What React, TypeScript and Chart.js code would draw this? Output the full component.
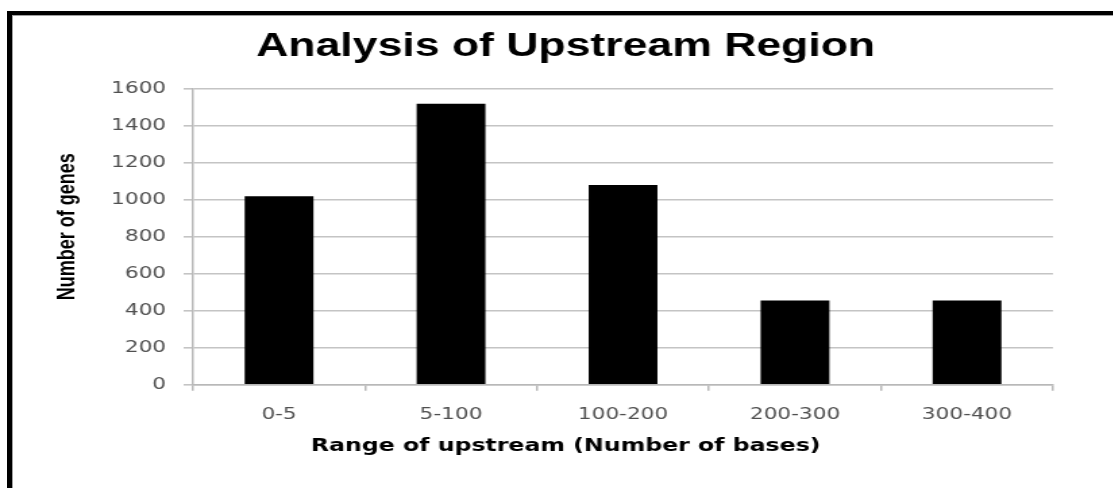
import React, { useEffect, useRef } from "react";
import { Chart, registerables } from "chart.js";

Chart.register(...registerables);

// ---- data ----
const categories = ["0-5", "5-100", "100-200", "200-300", "300-400"];
const geneCounts = [1020, 1520, 1080, 455, 455];
const yMin = 0;
const yMax = 1600;
const yStep = 200;

const chartTitle = "Analysis of Upstream Region";
const xAxisTitle = "Range of upstream (Number of bases)";
const yAxisTitle = "Number of genes";

// ---- layout (the reference is horizontally stretched) ----
const STRETCH = 1.35;
const CANVAS_W = 838;
const CANVAS_H = 488;

export default function App() {
  const canvasRef = useRef<HTMLCanvasElement | null>(null);

  useEffect(() => {
    const canvas = canvasRef.current;
    if (!canvas) return;
    const chart = new Chart(canvas, {
      type: "bar",
      data: {
        labels: categories,
        datasets: [
          {
            label: yAxisTitle,
            data: geneCounts,
            backgroundColor: "#000000",
            borderWidth: 0,
            barPercentage: 0.4,
            categoryPercentage: 1.0,
          },
        ],
      },
      options: {
        animation: false,
        responsive: false,
        devicePixelRatio: 1,
        layout: { padding: { left: 0, right: 0, top: 0, bottom: 0 } },
        plugins: {
          legend: { display: false },
          tooltip: { enabled: false },
          title: {
            display: true,
            text: chartTitle,
            color: "#000000",
            font: { family: "'Liberation Sans', Arial, sans-serif", size: 33, weight: "bold" },
            padding: { top: 26.7, bottom: 22.7 },
          },
          subtitle: {
            display: true,
            position: "bottom",
            text: xAxisTitle,
            color: "#000000",
            font: { family: "'DejaVu Sans', Verdana, sans-serif", size: 17.5, weight: "bold" },
            padding: { top: 4, bottom: 31 },
          },
        },
        scales: {
          x: {
            type: "category",
            grid: {
              display: true,
              drawOnChartArea: false,
              drawTicks: true,
              tickLength: 6,
              color: "#b8b8b8",
              lineWidth: 1.5,
              offset: true,
            },
            border: { display: true, color: "#b8b8b8", width: 1.5 },
            ticks: {
              color: "#505050",
              font: { family: "'DejaVu Sans', Verdana, sans-serif", size: 16 },
              padding: 15,
              maxRotation: 0,
              autoSkip: false,
            },
            afterFit: (scale: any) => {
              scale.height = 47.3;
            },
          },
          y: {
            type: "linear",
            position: "left",
            min: yMin,
            max: yMax,
            ticks: {
              stepSize: yStep,
              color: "#505050",
              font: { family: "'DejaVu Sans', Verdana, sans-serif", size: 16 },
              padding: 13,
              callback: (value: any) => String(value),
            },
            grid: {
              color: "#c4c4c4",
              lineWidth: 1.6,
              drawTicks: true,
              tickLength: 7,
            },
            border: { display: true, color: "#b8b8b8", width: 1.5 },
            title: {
              display: true,
              text: "    " + yAxisTitle,
              color: "#000000",
              font: { family: "'Liberation Sans', Arial, sans-serif", size: 18, weight: "bold" },
              padding: { top: 39, bottom: 0 },
            },
            afterFit: (scale: any) => {
              scale.width = 143;
            },
          },
          yRight: {
            type: "linear",
            position: "right",
            display: true,
            grid: { display: false },
            ticks: { display: false },
            border: { display: false },
            afterFit: (scale: any) => {
              scale.width = 58;
            },
          },
        },
      },
    });
    return () => chart.destroy();
  }, []);

  return (
    <div
      style={{
        position: "absolute",
        left: 0,
        top: 0,
        width: 1113,
        height: 488,
        overflow: "hidden",
        background: "#ffffff",
      }}
    >
      <div
        style={{
          position: "absolute",
          left: 0,
          top: 0,
          transform: `scaleX(${STRETCH})`,
          transformOrigin: "0 0",
        }}
      >
        <canvas ref={canvasRef} width={CANVAS_W} height={CANVAS_H} />
      </div>
      <div
        style={{
          position: "absolute",
          left: 7,
          top: 11,
          width: 1300,
          height: 700,
          borderLeft: "5px solid #000000",
          borderTop: "4px solid #000000",
          boxShadow: "inset 1px 1px 0 #a0a0a0",
          pointerEvents: "none",
        }}
      />
    </div>
  );
}
